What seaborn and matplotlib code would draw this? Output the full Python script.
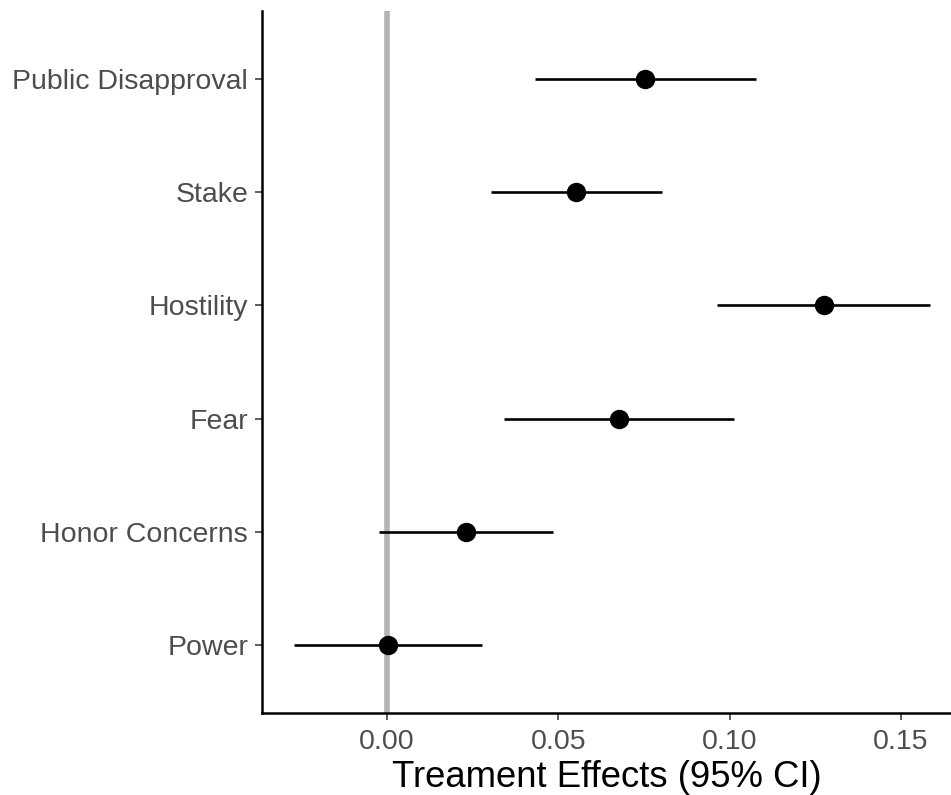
import matplotlib
matplotlib.use("Agg")
import matplotlib.pyplot as plt
import seaborn as sns
import pandas as pd
import numpy as np

# Treatment effect estimates with 95% confidence intervals (top to bottom)
terms = ["Public Disapproval", "Stake", "Hostility", "Fear", "Honor Concerns", "Power"]
estimates = [0.0754, 0.0553, 0.1275, 0.0677, 0.0231, 0.0003]
ci_low = [0.0433, 0.0303, 0.0964, 0.0341, -0.0023, -0.0271]
ci_high = [0.1076, 0.0803, 0.1584, 0.1013, 0.0485, 0.0277]
x_ticks = [0.00, 0.05, 0.10, 0.15]
x_tick_labels = ["0.00", "0.05", "0.10", "0.15"]

sns.set_style("ticks")
plt.rcParams["font.family"] = ["Liberation Sans", "DejaVu Sans"]

df = pd.DataFrame({"term": terms, "est": estimates, "lo": ci_low, "hi": ci_high})
# bottom row sits at position 0
df["pos"] = np.arange(len(terms))[::-1]

fig = plt.figure(figsize=(9.51, 7.95), dpi=100)
ax = fig.add_axes([262 / 951, 1 - 713 / 795, 1 - 262 / 951, (713 - 11) / 795])

ax.axvline(0, color="#B3B3B3", lw=4.0, zorder=1)
ax.hlines(df["pos"], df["lo"], df["hi"], color="black", lw=1.9, zorder=2)
sns.scatterplot(data=df, x="est", y="pos", ax=ax, color="black", s=195,
                linewidth=0, zorder=3, legend=False)

ax.set_xlim(-0.03648, 0.1646)
ax.set_ylim(-0.6, len(terms) - 0.4)
ax.set_yticks(df["pos"])
ax.set_yticklabels(df["term"])
ax.set_xticks(x_ticks)
ax.set_xticklabels(x_tick_labels)

ax.set_xlabel("Treament Effects (95% CI)", fontsize=26.3, color="black", labelpad=3.5)
ax.set_ylabel("")

for side in ["top", "right"]:
    ax.spines[side].set_visible(False)
for side in ["left", "bottom"]:
    ax.spines[side].set_linewidth(1.8)
    ax.spines[side].set_color("black")

ax.tick_params(axis="both", which="major", length=5, width=1.1, color="#333333",
               labelcolor="#4D4D4D", labelsize=20.5)
ax.tick_params(axis="x", pad=6.5)
ax.tick_params(axis="y", pad=5)

fig.savefig("out.png", dpi=100)
